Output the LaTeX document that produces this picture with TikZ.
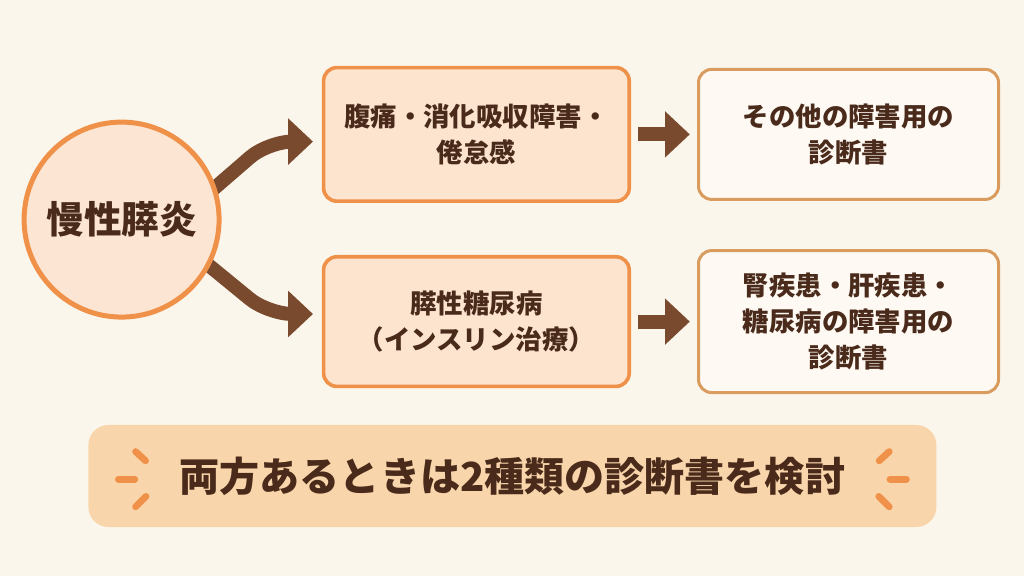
\documentclass[tikz,border=0pt]{standalone}
\usepackage{fontspec}
\setmainfont{Noto Sans CJK JP}
\usetikzlibrary{positioning, arrows.meta, calc}
\definecolor{bgcream}{HTML}{FBF6EC}
\definecolor{circlefill}{HTML}{FCE6D3}
\definecolor{peach}{HTML}{FCE4CF}
\definecolor{orangeline}{HTML}{F0914A}
\definecolor{paleface}{HTML}{FEF9F2}
\definecolor{tanline}{HTML}{D99B5E}
\definecolor{arrowbrown}{HTML}{7A4A2F}
\definecolor{inkbrown}{HTML}{4A2A1A}
\definecolor{bannerfill}{HTML}{F9D5AB}
\newcommand{\boxfont}{\fontsize{18.8}{25.6}\selectfont\bfseries}
\newcommand{\colgap}{1.65cm}
\newcommand{\rowgap}{1.3cm}
\newcommand{\tipgap}{0.18cm}
\pgfdeclarelayer{background}
\pgfsetlayers{background,main}

\begin{document}
\begin{tikzpicture}[
    disease/.style={
        circle,
        draw=orangeline,
        fill=circlefill,
        line width=0.125cm,
        minimum size=4.875cm,
        inner sep=0pt,
        text=inkbrown,
        font=\fontsize{26.7}{32}\selectfont\bfseries
    },
    symptom/.style={
        rectangle,
        draw=orangeline,
        fill=peach,
        line width=0.09cm,
        rounded corners=0.33cm,
        minimum width=7.64cm,
        minimum height=3.34cm,
        align=center,
        text=inkbrown,
        font=\boxfont
    },
    certif/.style={
        symptom,
        draw=tanline,
        fill=paleface,
        line width=0.075cm,
        minimum width=7.5cm
    },
    flow/.style={
        draw=arrowbrown,
        line width=0.35cm,
        -{Triangle[width=1.12cm, length=0.62cm]},
        shorten <=\tipgap,
        shorten >=\tipgap
    },
    branch/.style={flow, rounded corners=0.6cm, shorten <=0pt, shorten >=0.22cm},
    spark/.style={draw=orangeline, line width=0.17cm, line cap=round}
]

    % --- Backdrop ---
    \begin{pgfonlayer}{background}
        \fill[bgcream] (0,0) rectangle (25.6,14.4);
    \end{pgfonlayer}
    \useasboundingbox (0,0) rectangle (25.6,14.4);

    % --- 1) Chronic pancreatitis ---
    \node[disease] (pancreatitis) at (3.04,8.91) {慢性膵炎};

    % --- 2) Symptoms ---
    \node[symptom] (pain) at (11.91,11.04) {腹痛・消化吸収障害・\\倦怠感};
    \node[symptom, minimum height=3.24cm, below=\rowgap of pain] (diabetes) {膵性糖尿病\\（インスリン治療）};

    % --- 3) Certificates ---
    \node[certif, minimum height=3.25cm, right=\colgap of pain] (othercert) {その他の障害用の\\診断書};
    \node[certif, minimum height=3.55cm, right=\colgap of diabetes] (organcert) {腎疾患・肝疾患・\\糖尿病の障害用の\\診断書};

    % --- 4) Summary banner ---
    \node[fill=bannerfill, rounded corners=0.5cm, minimum width=21.2cm, minimum height=2.55cm,
          text=inkbrown, font=\fontsize{28.5}{34}\selectfont\bfseries] (summary) at (12.81,2.5)
        {両方あるときは2種類の診断書を検討};

    \foreach \s in {-1,1} {
        \begin{scope}[shift={(summary.center)}, xscale=\s]
            \draw[spark] (-9.42,0.61) -- (-9.17,0.38);
            \draw[spark] (-9.85,-0.08) -- (-9.44,-0.08);
            \draw[spark] (-9.16,-0.51) -- (-9.42,-0.77);
        \end{scope}
    }

    % --- Connectors ---
    \begin{pgfonlayer}{background}
        \draw[branch] ([shift={(220:0.5cm)}]pancreatitis.19)
            -- ([xshift=-1.34cm, yshift=-0.18cm]pain.west)
            -- ([yshift=-0.18cm]pain.west);
        \draw[branch] ([shift={(140:0.5cm)}]pancreatitis.-28)
            -- ([xshift=-1.34cm, yshift=0.19cm]diabetes.west)
            -- ([yshift=0.19cm]diabetes.west);
    \end{pgfonlayer}

    \draw[flow] (pain) -- (othercert);
    \draw[flow] (diabetes) -- (organcert);

\end{tikzpicture}
\end{document}
